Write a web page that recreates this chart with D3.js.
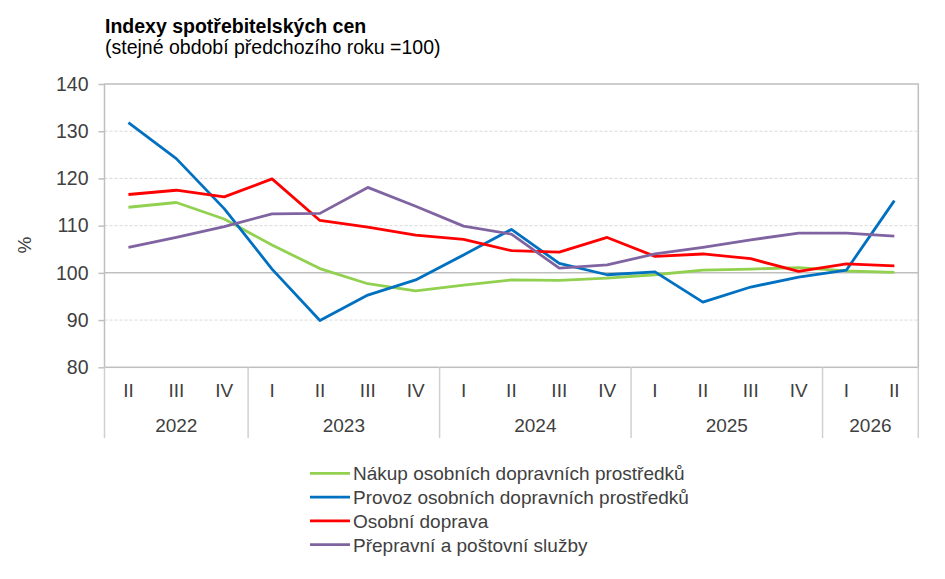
<!DOCTYPE html>
<html><head><meta charset="utf-8">
<script src="https://cdn.jsdelivr.net/npm/d3@7"></script>
<style>body{margin:0;background:#fff}svg{display:block}text{font-family:"Liberation Sans",Arial,sans-serif}</style>
</head><body><svg id="c" width="945" height="579"></svg>
<script>
const quarters = ["II","III","IV","I","II","III","IV","I","II","III","IV","I","II","III","IV","I","II"];
const years = [{label:"2022",n:3},{label:"2023",n:4},{label:"2024",n:4},{label:"2025",n:4},{label:"2026",n:2}];
const yTicks = [80,90,100,110,120,130,140];
const nakup = [113.9,114.9,111.4,105.9,100.9,97.7,96.2,97.4,98.5,98.4,98.9,99.6,100.6,100.8,101.1,100.4,100.1];
const provoz = [131.8,124.2,113.6,100.8,89.9,95.3,98.5,103.8,109.2,102.0,99.6,100.2,93.8,97.0,99.1,100.6,115.3];
const doprava = [116.6,117.5,116.1,119.9,111.1,109.7,108.0,107.1,104.7,104.4,107.5,103.5,104.0,103.0,100.3,101.9,101.5];
const prepravni = [105.4,107.5,109.8,112.5,112.6,118.1,114.1,109.9,108.2,101.0,101.7,104.0,105.4,107.0,108.4,108.4,107.8];
const seriesNames = ["Nákup osobních dopravních prostředků","Provoz osobních dopravních prostředků","Osobní doprava","Přepravní a poštovní služby"];
const seriesColors = ["#92D050","#0070C0","#FF0000","#8064A2"];
const seriesData = [nakup, provoz, doprava, prepravni];

const svg = d3.select("#c");
const L = 104.5, R = 918.3, T = 84, B = 367.3;
const idx = d3.range(quarters.length);
const x = d3.scaleBand().domain(idx).range([L, R]);
const y = d3.scaleLinear().domain([80,140]).range([B, T]);
const axisCol = "#bfbfbf", textCol = "#404040";

// title
svg.append("text").attr("x",105).attr("y",33).attr("font-size",19.5).attr("font-weight","bold").attr("fill","#000").text("Indexy spotřebitelských cen");
svg.append("text").attr("x",105).attr("y",54).attr("font-size",19.5).attr("fill","#000").text("(stejné období předchozího roku =100)");

// gridlines
svg.append("g").selectAll("line").data(yTicks.filter(t=>t!==80 && t!==140 && t!==100)).join("line")
  .attr("x1",L).attr("x2",R).attr("y1",d=>y(d)).attr("y2",d=>y(d))
  .attr("stroke","#d9d9d9").attr("stroke-width",1).attr("stroke-dasharray","3,2");
svg.append("line").attr("x1",L).attr("x2",R).attr("y1",y(100)).attr("y2",y(100)).attr("stroke",axisCol).attr("stroke-width",1.5);

// plot border
svg.append("rect").attr("x",L).attr("y",T).attr("width",R-L).attr("height",B-T).attr("fill","none").attr("stroke",axisCol).attr("stroke-width",1.5);

// y axis
const yAxis = d3.axisLeft(y).tickValues(yTicks).tickSize(6).tickPadding(10);
const gy = svg.append("g").attr("transform",`translate(${L},0)`).call(yAxis);
gy.select(".domain").remove();
gy.selectAll(".tick line").attr("stroke",axisCol).attr("stroke-width",1.5);
gy.selectAll(".tick text").attr("font-size",19.5).attr("fill",textCol).attr("font-family","Liberation Sans, Arial, sans-serif");
svg.append("text").attr("transform","translate(31,245) rotate(-90)").attr("text-anchor","middle").attr("font-size",19).attr("fill",textCol).text("%");

// x axis: quarter labels
const xAxis = d3.axisBottom(x).tickFormat(i=>quarters[i]).tickSize(0).tickPadding(16);
const gx = svg.append("g").attr("transform",`translate(0,${B})`).call(xAxis);
gx.select(".domain").remove();
gx.selectAll(".tick text").attr("font-size",19).attr("fill",textCol).attr("font-family","Liberation Sans, Arial, sans-serif");

// year separators and labels
let start = 0;
const bounds = [0];
years.forEach(yr=>{ start += yr.n; bounds.push(start); });
const bx = i => i < quarters.length ? x(i) : R;
svg.append("g").selectAll("line").data(bounds).join("line")
  .attr("x1",d=>bx(d)).attr("x2",d=>bx(d)).attr("y1",B).attr("y2",438)
  .attr("stroke","#d0d0d0").attr("stroke-width",1.5);
svg.append("g").selectAll("text").data(years).join("text")
  .attr("x",(d,i)=>(bx(bounds[i])+bx(bounds[i+1]))/2).attr("y",432)
  .attr("text-anchor","middle").attr("font-size",19).attr("fill",textCol).text(d=>d.label);

// lines
const line = d3.line().x((d,i)=>x(i)+x.bandwidth()/2).y(d=>y(d));
svg.append("g").selectAll("path").data(seriesData).join("path")
  .attr("d",line).attr("fill","none").attr("stroke",(d,i)=>seriesColors[i]).attr("stroke-width",2.8).attr("stroke-linejoin","round");

// legend
const lg = svg.append("g").selectAll("g").data(seriesNames).join("g")
  .attr("transform",(d,i)=>`translate(310,${473.3+i*23.8})`);
lg.append("line").attr("x1",0).attr("x2",40).attr("stroke",(d,i)=>seriesColors[i]).attr("stroke-width",2.8);
lg.append("text").attr("x",43).attr("y",6.8).attr("font-size",19).attr("fill",textCol).text(d=>d);
</script></body></html>
